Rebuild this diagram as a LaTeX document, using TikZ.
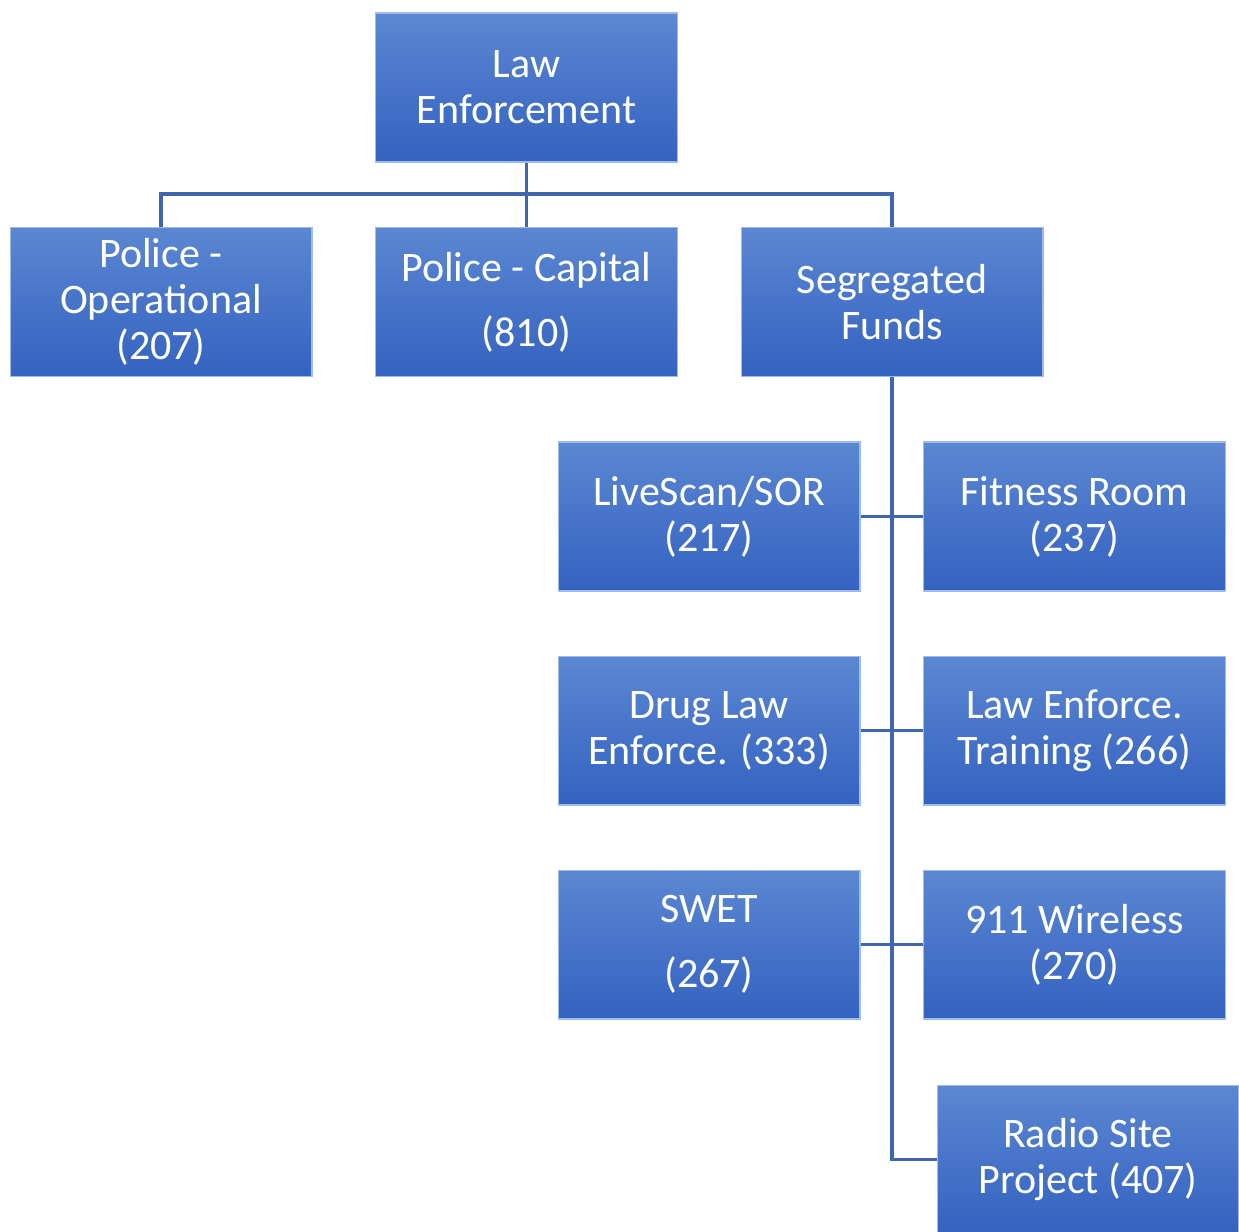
\documentclass[tikz,border=0pt]{standalone}
\usepackage{fontspec}
\setmainfont{Carlito}
\usepackage{xcolor}
\usepackage{tikz}
\definecolor{orgtop}{HTML}{5B87D2}
\definecolor{orgbot}{HTML}{3462C0}
\definecolor{orgline}{HTML}{3F66AE}
\definecolor{orgedge}{HTML}{9DBBEE}
\usetikzlibrary{positioning, calc}

\tikzset{
  unit/.style={rectangle, minimum width=6.04cm, minimum height=2.98cm, inner sep=0pt,
    top color=orgtop, bottom color=orgbot, draw=orgedge, line width=0.6pt,
    text=white, align=center, font=\fontsize{23.9}{26.2}\selectfont,
    path picture={
      \fill[white, opacity=0.25] (path picture bounding box.north west) -- (path picture bounding box.north east)
        -- ($(path picture bounding box.north east)+(-0.17,-0.17)$) -- ($(path picture bounding box.north west)+(0.17,-0.17)$) -- cycle;
      \fill[white, opacity=0.15] (path picture bounding box.north west) -- ($(path picture bounding box.north west)+(0.17,-0.17)$)
        -- ($(path picture bounding box.south west)+(0.17,0.17)$) -- (path picture bounding box.south west) -- cycle;
      \fill[black, opacity=0.10] (path picture bounding box.south west) -- (path picture bounding box.south east)
        -- ($(path picture bounding box.south east)+(-0.17,0.17)$) -- ($(path picture bounding box.south west)+(0.17,0.17)$) -- cycle;
    }},
  link/.style={orgline, line width=2pt}
}

\begin{document}
\begin{tikzpicture}[x=0.02cm, y=-0.02cm]
\useasboundingbox (0,0) rectangle (1239,1231);

% Top level
\node[unit] (law) at (526.5,87.5) {Law\\Enforcement};

% Second level
\node[unit] (polop) at (161,302) {Police -\\Operational\\(207)};
\node[unit] (polcap) at (526.5,302) {Police - Capital\\[0.38cm](810)};
\node[unit] (seg) at (892,302) {Segregated\\Funds};

% Segregated funds
\node[unit] (livescan) at (709,516.5) {LiveScan/SOR\\(217)};
\node[unit] (fitness) at (1074.5,516.5) {Fitness Room\\(237)};
\node[unit] (drug) at (709,730.5) {Drug Law\\Enforce. (333)};
\node[unit] (training) at (1074.5,730.5) {Law Enforce.\\Training (266)};
\node[unit] (swet) at (709,944.5) {SWET\\[0.38cm](267)};
\node[unit] (wireless) at (1074.5,944.5) {911 Wireless\\(270)};
\node[unit] (radio) at (1088,1159.5) {Radio Site\\Project (407)};

% Connectors
\coordinate (bus) at (526.5,194);
\draw[link] (law.south) -- (bus);
\draw[link] (polop.north) |- (bus) -| (seg.north);
\draw[link] (bus) -- (polcap.north);
\draw[link] (seg.south) |- (radio.west);
\draw[link] (livescan.east) -- (fitness.west);
\draw[link] (drug.east) -- (training.west);
\draw[link] (swet.east) -- (wireless.west);
\end{tikzpicture}
\end{document}
